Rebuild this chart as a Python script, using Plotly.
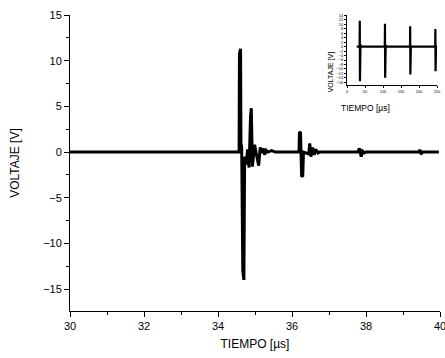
import plotly.graph_objects as go

# Main trace (time in µs, voltage in V)
t_main = [30.0, 34.57, 34.58, 34.61, 34.62, 34.64, 34.67, 34.70, 34.72, 34.76,
          34.80, 34.84, 34.88, 34.90, 34.93, 34.99, 35.04, 35.10, 35.14, 35.18,
          35.22, 35.26, 35.30, 35.35, 35.45, 35.55, 36.19, 36.20, 36.23, 36.26,
          36.29, 36.31, 36.45, 36.48, 36.51, 36.56, 36.60, 36.64, 36.70, 36.75,
          37.78, 37.82, 37.87, 37.91, 37.96, 38.00, 39.43, 39.46, 39.49, 39.52, 39.97]
v_main = [0.0, 0.0, 10.8, 11.3, 1.0, 0.5, -13.0, -14.0, -0.5, -1.4,
          0.3, -1.7, 4.0, 4.8, -1.6, 0.8, -0.3, -1.5, 0.5, -0.1,
          0.4, -0.3, 0.2, 0.0, 0.15, 0.0, 0.0, 2.2, 2.1, -2.6,
          -2.7, 0.0, -0.2, 0.95, -0.5, 0.5, -0.3, 0.3, -0.1, 0.0,
          0.0, 0.4, -0.5, 0.1, -0.1, 0.0, 0.0, 0.25, -0.25, 0.0, 0.0]

# Inset trace (time in µs, voltage in V)
t_ins = [27, 35, 35.5, 36, 36.5, 37, 37.5, 38, 105, 105.5, 106, 106.5, 107, 107.5, 108,
         175, 175.5, 176, 176.5, 177, 177.5, 178, 245, 245.5, 246, 246.5, 247, 247.5, 248, 250]
v_ins = [0, 0, 11.6, -15.5, 2.0, -2.5, 1.0, 0, 0, 10.3, -14.0, 1.8, -2.0, 0.8, 0,
         0, 9.1, -12.5, 1.6, -1.8, 0.6, 0, 0, 7.9, -11.0, 1.4, -1.5, 0.5, 0, 0]

x_ticks = [30, 32, 34, 36, 38, 40]
y_ticks = [15, 10, 5, 0, -5, -10, -15]
ins_x_ticks = [0, 50, 100, 150, 200, 250]
ins_y_ticks = list(range(14, -19, -2))

W, H = 445, 358
L, R, T, B = 70, 5, 15, 47
PW, PH = W - L - R, H - T - B


def px_to_paper(px, py):
    return (px - L) / PW, (H - B - py) / PH


fig = go.Figure()
fig.add_trace(go.Scatter(x=t_main, y=v_main, mode="lines",
                         line=dict(color="black", width=3), xaxis="x", yaxis="y",
                         showlegend=False))
fig.add_trace(go.Scatter(x=t_ins, y=v_ins, mode="lines",
                         line=dict(color="black", width=2.2), xaxis="x2", yaxis="y2",
                         showlegend=False))

axis_common = dict(showgrid=False, zeroline=False, showline=True, linecolor="black",
                   linewidth=1, ticks="outside", tickcolor="black", mirror=False,
                   automargin=False, ticklabeloverflow="allow")

ix0, iy0 = px_to_paper(347, 85)
ix1, iy1 = px_to_paper(437, 15)

fig.update_layout(
    width=W, height=H,
    margin=dict(l=L, r=R, t=T, b=B),
    paper_bgcolor="white", plot_bgcolor="white",
    font=dict(family="Liberation Sans, Arial", color="black"),
    xaxis=dict(**axis_common, range=[30, 40], tickvals=x_ticks, ticklen=5,
               tickfont=dict(size=11),
               minor=dict(ticks="outside", dtick=1, ticklen=3, tickcolor="black"),
               title=dict(text="TIEMPO [µs]", font=dict(size=12), standoff=8),
               domain=[0, 1]),
    yaxis=dict(**axis_common, range=[-17.4, 15], tickvals=y_ticks, ticklen=5,
               tickfont=dict(size=11),
               minor=dict(ticks="outside", tick0=0, dtick=2.5, ticklen=3, tickcolor="black"),
               title=dict(text="VOLTAJE [V]", font=dict(size=12), standoff=20),
               domain=[0, 1]),
    xaxis2=dict(**axis_common, range=[0, 250], tickvals=ins_x_ticks, ticklen=2,
                tickfont=dict(size=4), domain=[ix0, min(ix1, 1.0)], anchor="y2"),
    yaxis2=dict(**axis_common, range=[-17.2, 14.2], tickvals=ins_y_ticks, ticklen=2,
                tickfont=dict(size=4), domain=[iy0, min(iy1, 1.0)], anchor="x2"),
)

ax, ay = px_to_paper(392, 101)
bx, by = px_to_paper(337, 50)
fig.add_annotation(text="TIEMPO [µs]", x=ax, y=ay, xref="paper", yref="paper",
                   showarrow=False, font=dict(size=8.5))
fig.add_annotation(text="VOLTAJE [V]", x=bx, y=by, xref="paper", yref="paper",
                   showarrow=False, textangle=-90, font=dict(size=7))

fig.write_html("out.html")
